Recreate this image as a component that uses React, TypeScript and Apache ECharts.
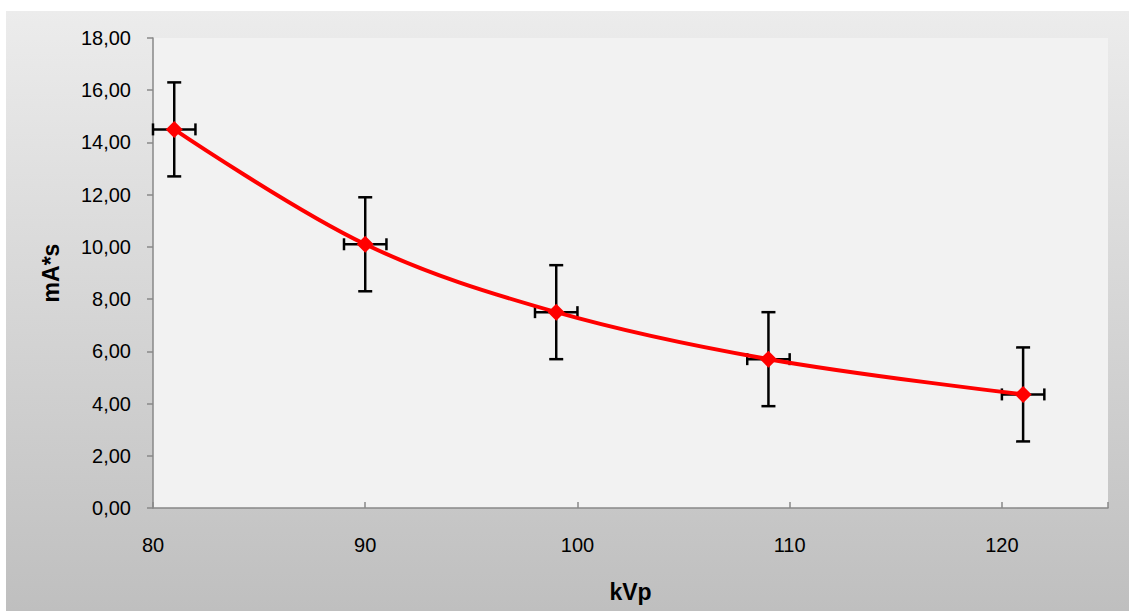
import React, { useEffect, useRef } from "react";
import * as echarts from "echarts";

// Tube voltage (kVp) against tube current-time product (mA*s)
const kvp = [81, 90, 99, 109, 121];
const mas = [14.5, 10.1, 7.5, 5.7, 4.35];
const kvpError = [1, 1, 1, 1, 1];
const masError = [1.8, 1.8, 1.8, 1.8, 1.8];
const xTicks = [80, 90, 100, 110, 120];

const fmt = (v: number) => v.toFixed(2).replace(".", ",");

export default function App() {
  const ref = useRef<HTMLDivElement>(null);

  useEffect(() => {
    document.body.style.margin = "0";
    const chart = echarts.init(ref.current!, null, { renderer: "svg" });
    const font = "'Liberation Sans', Arial, sans-serif";

    const errData = kvp.map((x, i) => [x, mas[i], kvpError[i], masError[i]]);

    chart.setOption({
      animation: false,
      graphic: [
        {
          type: "rect",
          z: -10,
          silent: true,
          shape: { x: 6, y: 11, width: 1123, height: 600 },
          style: {
            fill: new echarts.graphic.LinearGradient(0, 0, 0, 1, [
              { offset: 0, color: "#ececec" },
              { offset: 1, color: "#bfbfbf" },
            ]),
          },
        },
      ],
      grid: {
        left: 153,
        right: 21,
        top: 38,
        bottom: 103,
        outerBoundsMode: "none",
        containLabel: false,
        show: true,
        backgroundColor: "#f2f2f2",
        borderWidth: 0,
      },
      xAxis: {
        type: "value",
        min: 80,
        max: 125,
        interval: 10,
        name: "kVp",
        nameLocation: "middle",
        nameGap: 72,
        nameTextStyle: { fontFamily: font, fontSize: 23, fontWeight: "bold", color: "#000" },
        axisLine: { show: true, lineStyle: { color: "#888888", width: 1.5 } },
        axisTick: { show: true, inside: true, length: 6, lineStyle: { color: "#888888", width: 1.5 } },
        splitLine: { show: false },
        axisLabel: {
          fontFamily: font,
          fontSize: 20,
          color: "#000",
          margin: 27,
          formatter: (v: number) => (xTicks.includes(v) ? String(v) : ""),
        },
      },
      yAxis: {
        type: "value",
        min: 0,
        max: 18,
        interval: 2,
        name: "mA*s",
        nameLocation: "middle",
        nameGap: 91,
        nameRotate: 90,
        nameTextStyle: { fontFamily: font, fontSize: 23, fontWeight: "bold", color: "#000" },
        axisLine: { show: true, lineStyle: { color: "#888888", width: 1.5 } },
        axisTick: { show: true, length: 6, lineStyle: { color: "#888888", width: 1.5 } },
        splitLine: { show: false },
        axisLabel: {
          fontFamily: font,
          fontSize: 20,
          color: "#000",
          margin: 22,
          formatter: (v: number) => fmt(v),
        },
      },
      series: [
        {
          type: "custom",
          z: 3,
          data: errData,
          renderItem: (params: any, api: any) => {
            const x = api.value(0);
            const y = api.value(1);
            const dx = api.value(2);
            const dy = api.value(3);
            const top = api.coord([x, y + dy]);
            const bot = api.coord([x, y - dy]);
            const left = api.coord([x - dx, y]);
            const right = api.coord([x + dx, y]);
            const cap = 7;
            const style = { stroke: "#000", lineWidth: 2.5 };
            return {
              type: "group",
              children: [
                { type: "line", shape: { x1: top[0], y1: top[1], x2: bot[0], y2: bot[1] }, style },
                { type: "line", shape: { x1: top[0] - cap, y1: top[1], x2: top[0] + cap, y2: top[1] }, style },
                { type: "line", shape: { x1: bot[0] - cap, y1: bot[1], x2: bot[0] + cap, y2: bot[1] }, style },
                { type: "line", shape: { x1: left[0], y1: left[1], x2: right[0], y2: right[1] }, style },
                { type: "line", shape: { x1: left[0], y1: left[1] - 6, x2: left[0], y2: left[1] + 6 }, style },
                { type: "line", shape: { x1: right[0], y1: right[1] - 6, x2: right[0], y2: right[1] + 6 }, style },
              ],
            };
          },
        },
        {
          type: "line",
          z: 5,
          data: kvp.map((x, i) => [x, mas[i]]),
          smooth: 0.35,
          symbol: "diamond",
          symbolSize: 17,
          itemStyle: { color: "#ff0000" },
          lineStyle: { color: "#ff0000", width: 4 },
        },
      ],
    });

    return () => chart.dispose();
  }, []);

  return <div ref={ref} style={{ width: 1129, height: 611 }} />;
}
